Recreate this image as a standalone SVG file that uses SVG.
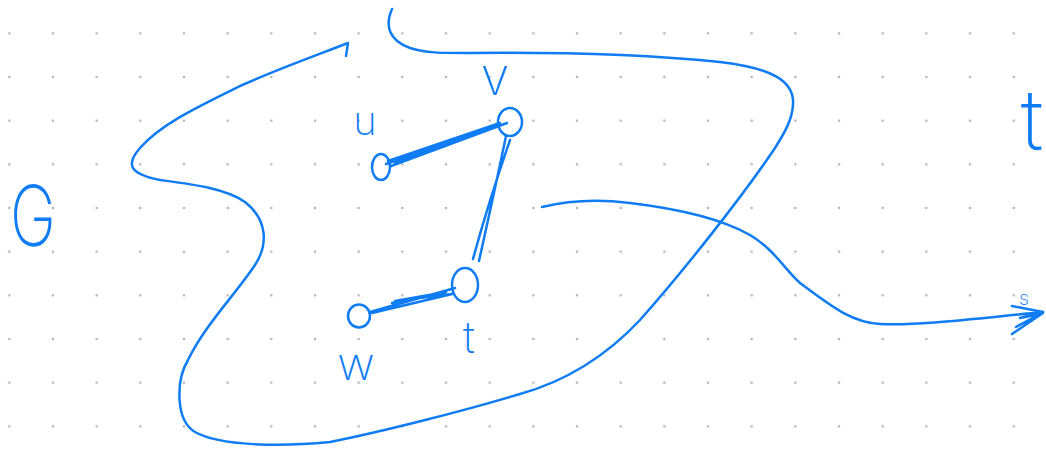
<svg xmlns="http://www.w3.org/2000/svg" width="1046" height="449" viewBox="0 0 1046 449">
<defs>
<pattern id="dots" x="9.3" y="33.3" width="43.67" height="43.67" patternUnits="userSpaceOnUse">
<circle cx="0" cy="0" r="1.3" fill="#b4b4b4"/><circle cx="43.67" cy="0" r="1.3" fill="#b4b4b4"/><circle cx="0" cy="43.67" r="1.3" fill="#b4b4b4"/><circle cx="43.67" cy="43.67" r="1.3" fill="#b4b4b4"/>
</pattern>
<style>
.ink{fill:none;stroke:#0f7cf4;stroke-width:2.5;stroke-linecap:round;stroke-linejoin:round}
.lbl{font-family:Inter,"Liberation Sans",Arial,sans-serif;font-weight:200;fill:#0f7cf4;text-anchor:middle}
</style>
</defs>
<rect width="1046" height="449" fill="#ffffff"/>
<rect width="1046" height="449" fill="url(#dots)"/>
<g id="region-G">
<path class="ink" d="M392,9 C385,25 388,40 410,48 C425,53 440,53 470,53 C560,52 650,55 720,62 C770,68 795,80 793,105 C792,120 785,132 775,148 C740,200 680,275 640,320 C610,352 570,380 520,394 C460,412 380,432 330,442 C280,447 220,446 195,432 C175,420 176,380 188,360 C205,325 235,295 255,265 C268,245 268,220 245,202 C225,188 190,184 160,180 C130,174 125,165 140,148 C160,125 195,108 240,86 C280,68 320,54 348,43 L346,56"/>
<text class="lbl" x="33" y="246" font-size="84" textLength="46" lengthAdjust="spacingAndGlyphs">G</text>
</g>
<g id="connectors">
<path class="ink" d="M388,161 L500,123 M391,166 L507,123 M386,164 L494,126 M395,163 L488,129"/>
<path class="ink" d="M473,259 C485,215 498,175 510,140 M479,261 C488,220 497,180 506,136"/>
<path class="ink" d="M370,312 L455,288 M392,303 L446,292 L395,301 L452,294 L372,313"/>
</g>
<g id="node-u">
<ellipse class="ink" cx="381" cy="167" rx="9" ry="13"/>
<text class="lbl" x="365" y="135" font-size="40">u</text>
</g>
<g id="node-v">
<ellipse class="ink" cx="510" cy="122" rx="12" ry="14"/>
<text class="lbl" x="495" y="95" font-size="52">v</text>
</g>
<g id="node-t">
<ellipse class="ink" cx="465" cy="285" rx="13" ry="17"/>
<text class="lbl" x="469" y="353" font-size="44">t</text>
</g>
<g id="node-w">
<ellipse class="ink" cx="359" cy="316" rx="11" ry="11.5"/>
<text class="lbl" x="356" y="380" font-size="46">w</text>
</g>
<g id="arrow-s">
<path class="ink" d="M542,207 C570,200 600,199 630,203 C680,209 720,218 750,235 C775,250 785,270 800,283 C830,305 850,322 880,324 C920,326 980,318 1043,312"/>
<path class="ink" d="M1012,306 L1043,312 L1020,318 L1040,314 L1016,327 L1043,313 L1012,334"/>
<text class="lbl" x="1024" y="305" font-size="20">s</text>
</g>
<g id="label-t-right">
<text class="lbl" x="1032" y="150" font-size="84">t</text>
</g>
</svg>
